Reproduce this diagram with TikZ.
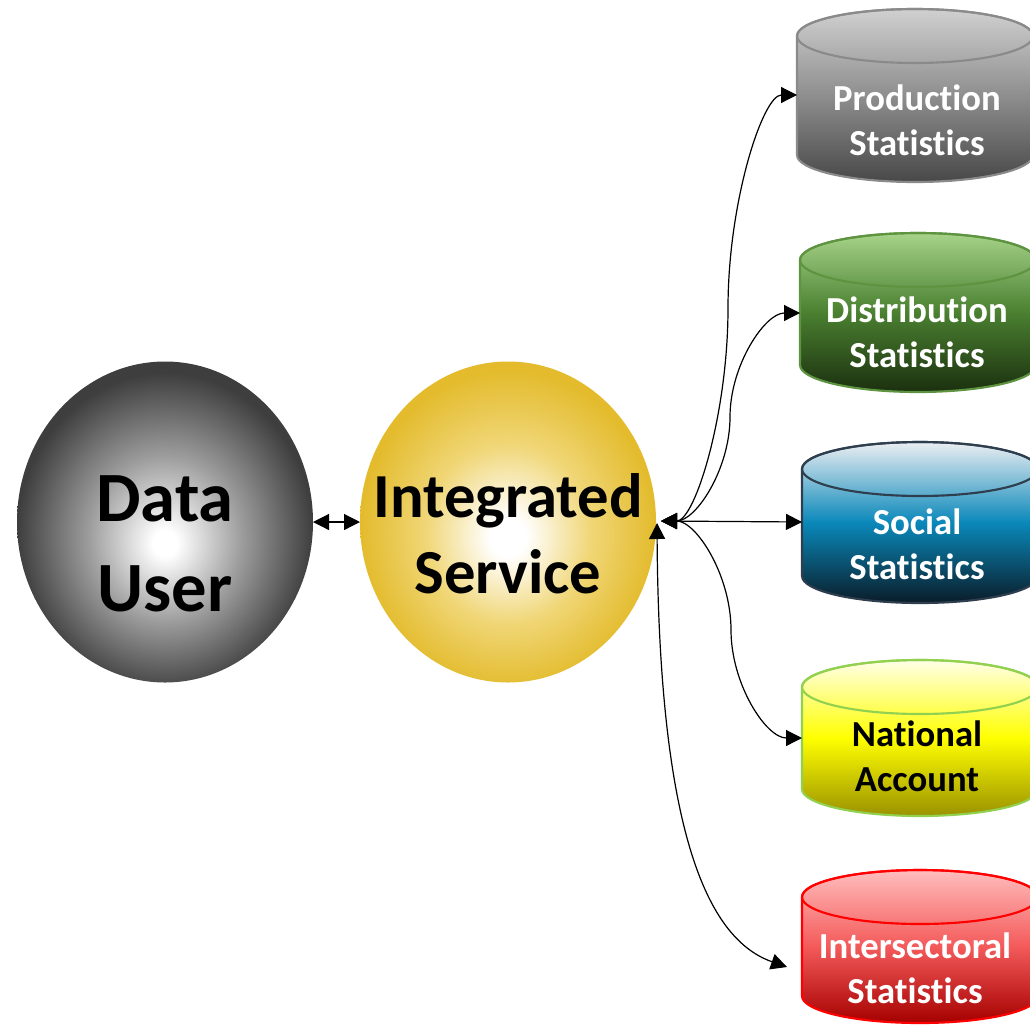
\documentclass[tikz,border=0pt]{standalone}
\usepackage{fontspec}
\setmainfont{Carlito}[Ligatures=NoCommon]
\usetikzlibrary{arrows.meta,shapes.geometric}

\definecolor{userMid}{HTML}{9C9C9C}
\definecolor{userEdge}{HTML}{3E3E3E}
\definecolor{svcMid}{HTML}{F0D676}
\definecolor{svcEdge}{HTML}{E3BB2C}

\definecolor{prodTop}{HTML}{D0D0D0}
\definecolor{prodMid}{HTML}{8E8E8E}
\definecolor{prodBot}{HTML}{484848}
\definecolor{prodLine}{HTML}{8A8A8A}

\definecolor{distTop}{HTML}{A6D389}
\definecolor{distMid}{HTML}{4A8030}
\definecolor{distBot}{HTML}{1B300F}
\definecolor{distLine}{HTML}{5E9440}

\definecolor{socTop}{HTML}{ECEEF2}
\definecolor{socMid}{HTML}{0A88BA}
\definecolor{socBot}{HTML}{0A1C28}
\definecolor{socLine}{HTML}{2E3E4E}

\definecolor{natTop}{HTML}{FFFFE8}
\definecolor{natMid}{HTML}{FFFF00}
\definecolor{natBot}{HTML}{9A9200}
\definecolor{natLine}{HTML}{92D050}

\definecolor{intTop}{HTML}{FFBDBD}
\definecolor{intMid}{HTML}{F45A5A}
\definecolor{intBot}{HTML}{A60000}
\definecolor{intLine}{HTML}{FF0000}

\pgfdeclareradialshading{userball}{\pgfpoint{0bp}{-3.5bp}}{color(0bp)=(white); color(2bp)=(white); color(13bp)=(userMid); color(25bp)=(userEdge); color(50bp)=(userEdge)}
\pgfdeclareradialshading{svcball}{\pgfpoint{0bp}{-2.5bp}}{color(0bp)=(white); color(3bp)=(white); color(14bp)=(svcMid); color(25bp)=(svcEdge); color(50bp)=(svcEdge)}

\newcommand{\dbcyl}[7]{%
  \draw[line width=1.6pt, draw=#7, top color=#4, bottom color=#6, middle color=#5]
    (#1-118,#2) -- (#1-118,#3)
    arc[start angle=180, end angle=360, x radius=88.5pt, y radius=20.25pt]
    -- (#1+118,#2)
    arc[start angle=0, end angle=180, x radius=88.5pt, y radius=20.25pt] -- cycle;
  \draw[line width=1.6pt, draw=#7] (#1,#2) ellipse[x radius=88.5pt, y radius=20.25pt];
}

\tikzset{
  ball/.style={ellipse, shade, inner sep=0pt, outer sep=0pt, minimum width=222pt, minimum height=240.75pt},
  bigtext/.style={align=center, inner sep=0pt, font=\bfseries\fontsize{53}{67.5}\selectfont},
  svctext/.style={align=center, inner sep=0pt, font=\bfseries\fontsize{47}{57}\selectfont},
  cyltext/.style={align=center, inner sep=0pt, text=white, font=\bfseries\fontsize{27.5}{34}\selectfont},
  link/.style={line width=0.9pt, black, arrows={Triangle[length=12pt,width=12pt]-Triangle[length=12pt,width=12pt]}},
}

\begin{document}
\begin{tikzpicture}[x=0.75pt, y=-0.75pt]
\useasboundingbox (0,0) rectangle (1030,1025);
\clip (0,0) rectangle (1030,1025);

% hubs
\node[ball, shading=userball] (user) at (165,522) {};
\node[bigtext] (usertext) at (165,544) {Data\\User};
\node[ball, shading=svcball] (svc) at (508,522) {};
\node[svctext] (svctext) at (508,534) {Integrated\\Service};

% cylinders
\dbcyl{915}{36}{155}{prodTop}{prodMid}{prodBot}{prodLine}
\dbcyl{918}{260}{365}{distTop}{distMid}{distBot}{distLine}
\dbcyl{920}{469}{576}{socTop}{socMid}{socBot}{socLine}
\dbcyl{920}{687}{789}{natTop}{natMid}{natBot}{natLine}
\dbcyl{920}{897}{996}{intTop}{intMid}{intBot}{intLine}

\node[cyltext] (prod) at (917,120) {Production\\Statistics};
\node[cyltext] (dist) at (917,332) {Distribution\\Statistics};
\node[cyltext] (soc) at (917,544) {Social\\Statistics};
\node[cyltext, text=black] (nat) at (917,756) {National\\Account};
\node[cyltext] (inter) at (915,968) {Intersectoral\\Statistics};

% connector ends
\coordinate (hub) at (661,521);
\coordinate (hub2) at (657,523);
\coordinate (prodL) at (797,95);
\coordinate (distL) at (800,313);
\coordinate (socL) at (802,522);
\coordinate (natL) at (802,738);
\coordinate (intL) at (787,967);

% connectors
\draw[link] (user) -- (svc);
\draw[link] (hub) .. controls (695,521) and (728,414) .. (728,308) .. controls (728,201) and (763,95) .. (prodL);
\draw[link] (hub) .. controls (696,521) and (730,469) .. (730,417) .. controls (730,365) and (765,313) .. (distL);
\draw[link] (hub) -- (socL);
\draw[link] (hub) .. controls (696,521) and (731,575) .. (731,630) .. controls (731,684) and (766,738) .. (natL);
\draw[link] (hub2) .. controls (659,840) and (710,940) .. (intL);
\end{tikzpicture}
\end{document}
